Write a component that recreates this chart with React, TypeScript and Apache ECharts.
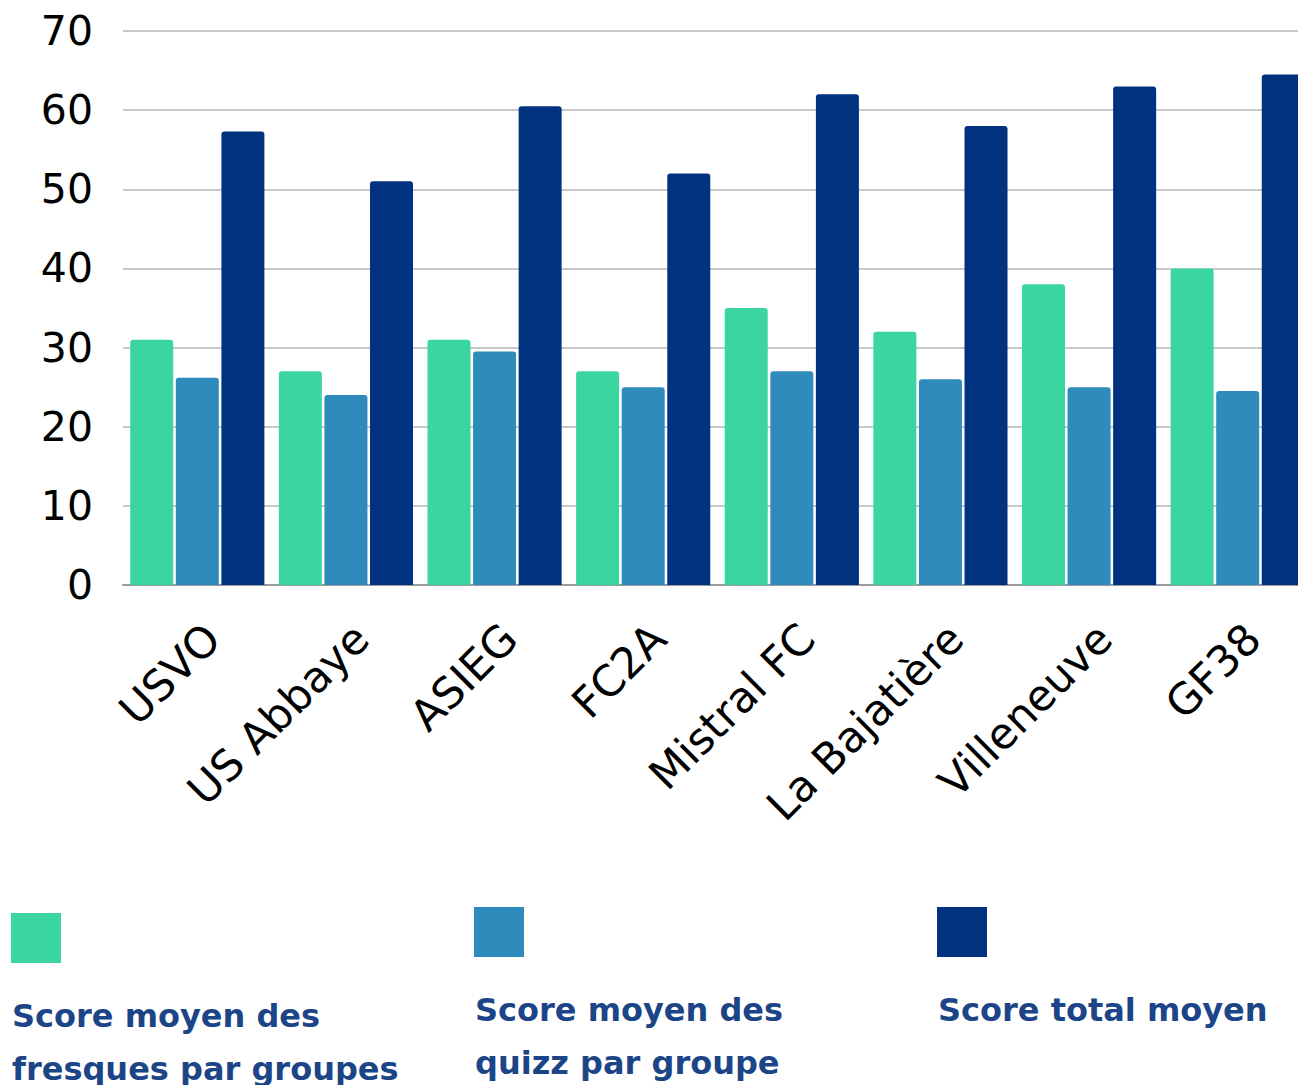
import React, { useEffect, useRef } from "react";
import * as echarts from "echarts";

const categories = ["USVO", "US Abbaye", "ASIEG", "FC2A", "Mistral FC", "La Bajatière", "Villeneuve", "GF38"];
const seriesNames = [
  "Score moyen des fresques par groupes",
  "Score moyen des quizz par groupe",
  "Score total moyen",
];
const legendLabels = ["Score moyen des\nfresques par groupes", "Score moyen des\nquizz par groupe", "Score total moyen"];
const fresques = [31, 27, 31, 27, 35, 32, 38, 40];
const quizz = [26.2, 24, 29.5, 25, 27, 26, 25, 24.5];
const total = [57.3, 51, 60.5, 52, 62, 58, 63, 64.5];
const yTicks = { min: 0, max: 70, interval: 10 };

const colors = ["#3BD69F", "#2E8BBC", "#003280"];
const legendX = [11, 474, 937];
const legendY = [913, 907, 907];

const CHART_W = 1312;

export default function App() {
  const ref = useRef<HTMLDivElement>(null);
  useEffect(() => {
    if (!ref.current) return;
    const chart = echarts.init(ref.current, null, { renderer: "svg" });
    const values = [fresques, quizz, total];
    const graphic: any[] = [];
    legendLabels.forEach((lab, i) => {
      graphic.push({
        type: "rect",
        left: legendX[i],
        top: legendY[i],
        shape: { width: 50, height: 50 },
        style: { fill: colors[i] },
      });
      graphic.push({
        type: "text",
        x: legendX[i] + 1,
        y: legendY[i] + 76,
        style: {
          text: lab,
          fontFamily: "DejaVu Sans",
          fontSize: 32,
          fontWeight: 600,
          lineHeight: 53,
          fill: "#1C4587",
          verticalAlign: "top",
        },
      });
    });
    chart.setOption({
      animation: false,
      backgroundColor: "#ffffff",
      grid: { left: 123, right: 0, top: 31, bottom: 1085 - 585, containLabel: false },
      xAxis: {
        type: "category",
        data: categories,
        axisTick: { show: false },
        axisLine: { lineStyle: { color: "#9a9a9a", width: 2 } },
        axisLabel: {
          rotate: 45,
          interval: 0,
          margin: 31,
          verticalAlign: "top",
          fontFamily: "DejaVu Sans",
          fontSize: 43,
          color: "#000000",
        },
      },
      yAxis: {
        type: "value",
        min: yTicks.min,
        max: yTicks.max,
        interval: yTicks.interval,
        axisLine: { show: false },
        axisTick: { show: false },
        splitLine: { lineStyle: { color: "#c8c8c8", width: 2 } },
        axisLabel: {
          margin: 30,
          fontFamily: "DejaVu Sans",
          fontSize: 41,
          color: "#000000",
        },
      },
      series: seriesNames.map((name, i) => ({
        name,
        type: "bar",
        data: values[i],
        barWidth: 43,
        barGap: "6%",
        itemStyle: { color: colors[i], borderRadius: [3, 3, 0, 0] },
      })),
      graphic,
    });
    return () => chart.dispose();
  }, []);
  return (
    <div style={{ position: "absolute", left: 0, top: 0, width: 1298, height: 1085, overflow: "hidden", background: "#fff" }}>
      <div ref={ref} style={{ width: CHART_W, height: 1085 }} />
    </div>
  );
}
